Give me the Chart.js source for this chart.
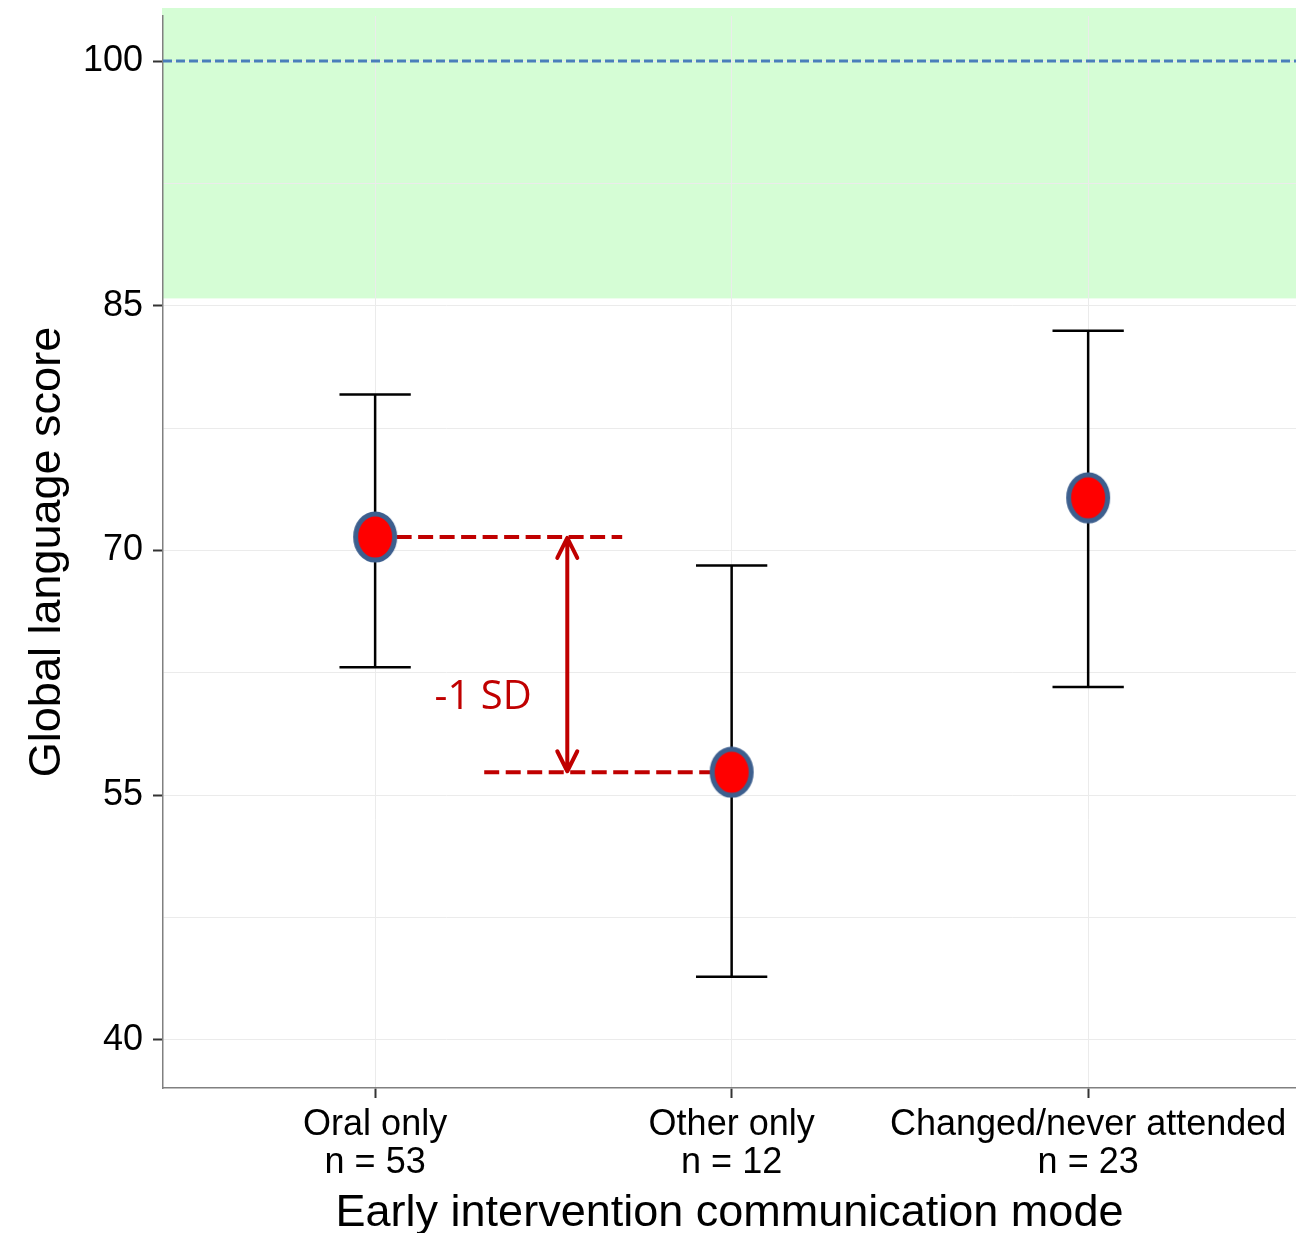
<!DOCTYPE html>
<html>
<head>
<meta charset="utf-8">
<script src="https://cdn.jsdelivr.net/npm/chart.js@4.4.1/dist/chart.umd.min.js"></script>
<style>
  html, body { margin: 0; padding: 0; background: #ffffff; }
  #wrap { width: 1296px; height: 1233px; }
</style>
</head>
<body>
<div id="wrap"><canvas id="chart" width="1296" height="1233"></canvas></div>
<script>
// Global language score by early intervention communication mode
const categories = [
  ['Oral only', 'n = 53'],
  ['Other only', 'n = 12'],
  ['Changed/never attended', 'n = 23']
];
const means = [70.83, 56.41, 73.23];
const lowerCI = [62.85, 43.87, 61.63];
const upperCI = [79.56, 69.08, 83.47];
const yMajorTicks = [40, 55, 70, 85, 100];
const yMinorTicks = [47.5, 62.5, 77.5, 92.5];
const normalRangeFloor = 85.45;
const populationMean = 100;
const gapLabel = '-1 SD';

const FONT = "'Liberation Sans', Arial, sans-serif";

// Oval marker: red fill with a steel-blue rim
function makeMarker() {
  const c = document.createElement('canvas');
  c.width = 46; c.height = 52;
  const g = c.getContext('2d');
  g.beginPath();
  g.ellipse(23, 26, 19.5, 23, 0, 0, Math.PI * 2);
  g.fillStyle = '#ff0000';
  g.fill();
  g.lineWidth = 5;
  g.strokeStyle = '#3d5f8e';
  g.stroke();
  return c;
}
const marker = makeMarker();

// keep the plot panel flush with the layout padding
function noScalePadding(s) {
  s.paddingTop = 0;
  s.paddingBottom = 0;
  s.paddingLeft = 0;
  s.paddingRight = 0;
}

const overlay = {
  id: 'overlay',
  beforeDraw(chart) {
    const { ctx, chartArea: a, scales: { y } } = chart;
    ctx.save();
    ctx.fillStyle = '#d5fdd5';
    const yb = y.getPixelForValue(normalRangeFloor);
    ctx.fillRect(a.left - 1, a.top - 8, a.right - a.left + 1, yb - (a.top - 8));
    ctx.restore();
  },
  beforeDatasetsDraw(chart) {
    const { ctx, chartArea: a, scales: { x, y } } = chart;
    ctx.save();

    // population mean reference line
    ctx.strokeStyle = '#4a7ebb';
    ctx.lineWidth = 3;
    ctx.setLineDash([9, 4]);
    const y100 = y.getPixelForValue(populationMean);
    ctx.beginPath();
    ctx.moveTo(a.left, y100);
    ctx.lineTo(a.right, y100);
    ctx.stroke();
    ctx.setLineDash([]);

    // error bars
    ctx.strokeStyle = '#000000';
    ctx.lineWidth = 2.5;
    means.forEach((m, i) => {
      const cx = x.getPixelForValue(i + 1);
      const xl = x.getPixelForValue(i + 1 - 0.1);
      const xr = x.getPixelForValue(i + 1 + 0.1);
      const yt = y.getPixelForValue(upperCI[i]);
      const ybt = y.getPixelForValue(lowerCI[i]);
      ctx.beginPath();
      ctx.moveTo(cx, yt); ctx.lineTo(cx, ybt);
      ctx.moveTo(xl, yt); ctx.lineTo(xr, yt);
      ctx.moveTo(xl, ybt); ctx.lineTo(xr, ybt);
      ctx.stroke();
    });

    // gap between oral-only and other-only means
    const red = '#c00000';
    const yHi = y.getPixelForValue(means[0]);
    const yLo = y.getPixelForValue(means[1]);
    ctx.strokeStyle = red;
    ctx.lineWidth = 4;
    ctx.setLineDash([15, 6.5]);
    ctx.beginPath();
    ctx.moveTo(x.getPixelForValue(1), yHi);
    ctx.lineTo(x.getPixelForValue(1.693), yHi);
    ctx.moveTo(x.getPixelForValue(1.306), yLo);
    ctx.lineTo(x.getPixelForValue(2), yLo);
    ctx.stroke();
    ctx.setLineDash([]);

    const ax = x.getPixelForValue(1.539);
    const t1 = yHi + 1, t2 = yLo - 1;
    ctx.lineCap = 'round';
    ctx.lineJoin = 'round';
    ctx.beginPath();
    ctx.moveTo(ax, t1); ctx.lineTo(ax, t2);
    ctx.moveTo(ax - 10, t1 + 20); ctx.lineTo(ax, t1); ctx.lineTo(ax + 10, t1 + 20);
    ctx.moveTo(ax - 10, t2 - 20); ctx.lineTo(ax, t2); ctx.lineTo(ax + 10, t2 - 20);
    ctx.stroke();

    ctx.fillStyle = red;
    ctx.font = "40px 'Open Sans', sans-serif";
    ctx.textAlign = 'center';
    ctx.textBaseline = 'alphabetic';
    ctx.fillText(gapLabel, x.getPixelForValue(1.303), y.getPixelForValue(60.26));
    ctx.restore();
  }
};

new Chart(document.getElementById('chart'), {
  type: 'scatter',
  data: {
    datasets: [{
      data: means.map((m, i) => ({ x: i + 1, y: m })),
      pointStyle: marker,
      pointRadius: 23,
      pointHoverRadius: 23
    }]
  },
  options: {
    responsive: false,
    animation: false,
    devicePixelRatio: 1,
    layout: { autoPadding: false, padding: { top: 16, right: 0, bottom: 0, left: 0 } },
    plugins: { legend: { display: false }, tooltip: { enabled: false } },
    scales: {
      x: {
        type: 'linear',
        min: 0.405,
        max: 3.583,
        afterBuildTicks: s => { s.ticks = categories.map((c, i) => ({ value: i + 1 })); },
        afterFit: s => { s.height = 145; noScalePadding(s); },
        grid: { color: '#ebebeb', lineWidth: 1, tickLength: 10, tickWidth: 2, tickColor: '#333333' },
        border: { color: '#808080', width: 1.5 },
        ticks: {
          autoSkip: false, maxRotation: 0,
          callback: v => categories[Math.round(v) - 1],
          color: '#000000',
          font: { family: FONT, size: 36, lineHeight: 1.03 },
          padding: 9
        },
        title: {
          display: true,
          text: 'Early intervention communication mode',
          color: '#000000',
          font: { family: FONT, size: 45, lineHeight: 0.86 },
          padding: { top: 0, bottom: 0 }
        }
      },
      y: {
        type: 'linear',
        min: 37.058,
        max: 102.758,
        afterBuildTicks: s => {
          s.ticks = yMajorTicks.concat(yMinorTicks).sort((p, q) => p - q).map(v => ({ value: v }));
        },
        afterFit: s => { s.width = 163; noScalePadding(s); },
        grid: {
          color: '#ebebeb', lineWidth: 1, tickLength: 10, tickWidth: 2,
          tickColor: c => (yMajorTicks.includes(c.tick.value) ? '#333333' : 'rgba(0,0,0,0)')
        },
        border: { color: '#808080', width: 1.5 },
        ticks: {
          callback: v => (yMajorTicks.includes(v) ? String(v) : ''),
          color: '#000000',
          font: { family: FONT, size: 36 },
          padding: 10
        },
        title: {
          display: true,
          text: 'Global language score',
          color: '#000000',
          font: { family: FONT, size: 45 },
          padding: { top: 21, bottom: 0 }
        }
      }
    }
  },
  plugins: [overlay]
});
</script>
</body>
</html>
